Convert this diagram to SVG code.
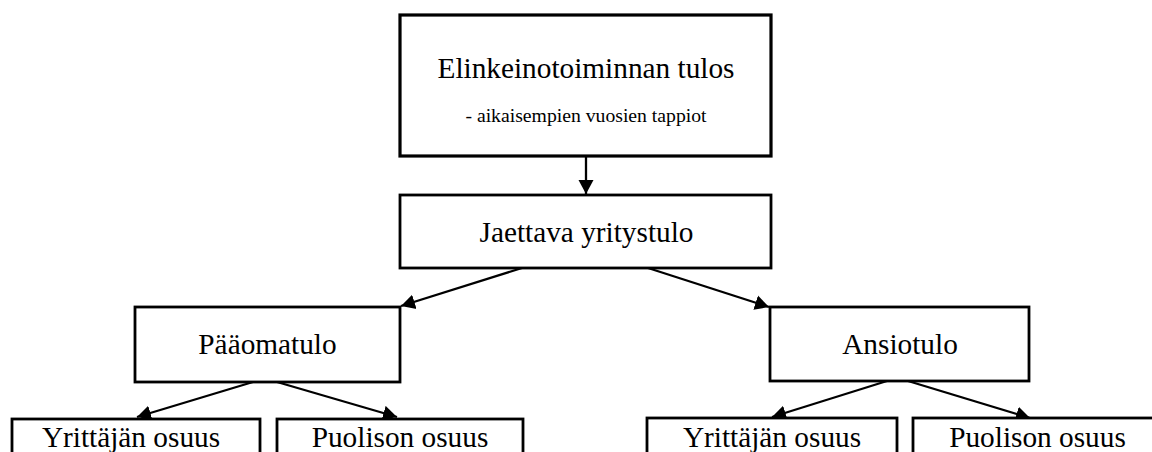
<svg xmlns="http://www.w3.org/2000/svg" width="1152" height="452" viewBox="0 0 1152 452">
<style>
.box{fill:#fff;stroke:#000;stroke-width:2.8}
.t{font-family:"Liberation Serif","Times New Roman",serif;font-size:29.3px;fill:#000;text-anchor:middle}
.s{font-family:"Liberation Serif","Times New Roman",serif;font-size:19.7px;fill:#000;text-anchor:middle}
.c{stroke:#000;stroke-width:2.3;fill:none;marker-end:url(#ah)}
</style>
<defs>
<marker id="ah" markerUnits="userSpaceOnUse" markerWidth="16" markerHeight="16" refX="14" refY="7.5" orient="auto" viewBox="0 0 16 15">
<path d="M0,0 L14,7.5 L0,15 z" fill="#000"/>
</marker>
</defs>
<rect width="1152" height="452" fill="#fff"/>
<g id="connectors">
<line class="c" x1="586" y1="157" x2="586" y2="194"/>
<line class="c" x1="522" y1="268" x2="401" y2="306"/>
<line class="c" x1="648" y1="268" x2="769" y2="307"/>
<line class="c" x1="253" y1="382" x2="137" y2="417"/>
<line class="c" x1="277" y1="382" x2="397" y2="417"/>
<line class="c" x1="887" y1="381" x2="772" y2="417"/>
<line class="c" x1="908" y1="381" x2="1030" y2="418"/>
</g>
<g id="n-elinkeino">
<rect class="box" x="400" y="15" width="371" height="141" style="stroke-width:3.2"/>
<text class="t" x="586" y="78">Elinkeinotoiminnan tulos</text>
<text class="s" x="586" y="122">- aikaisempien vuosien tappiot</text>
</g>
<g id="n-jaettava">
<rect class="box" x="400" y="195" width="371" height="73"/>
<text class="t" x="586.5" y="242">Jaettava yritystulo</text>
</g>
<g id="n-paaoma">
<rect class="box" x="135" y="307" width="265" height="75"/>
<text class="t" x="267.5" y="354">Pääomatulo</text>
</g>
<g id="n-ansio">
<rect class="box" x="770" y="307" width="259" height="74"/>
<text class="t" x="900" y="354">Ansiotulo</text>
</g>
<g id="n-yrittaja1">
<rect class="box" x="12" y="419" width="248" height="50"/>
<text class="t" x="131" y="447">Yrittäjän osuus</text>
</g>
<g id="n-puoliso1">
<rect class="box" x="277" y="419" width="246" height="50"/>
<text class="t" x="400" y="447">Puolison osuus</text>
</g>
<g id="n-yrittaja2">
<rect class="box" x="647" y="418" width="250" height="50"/>
<text class="t" x="772" y="447">Yrittäjän osuus</text>
</g>
<g id="n-puoliso2">
<rect class="box" x="913" y="418" width="249" height="50"/>
<text class="t" x="1037.5" y="447">Puolison osuus</text>
</g>
</svg>
